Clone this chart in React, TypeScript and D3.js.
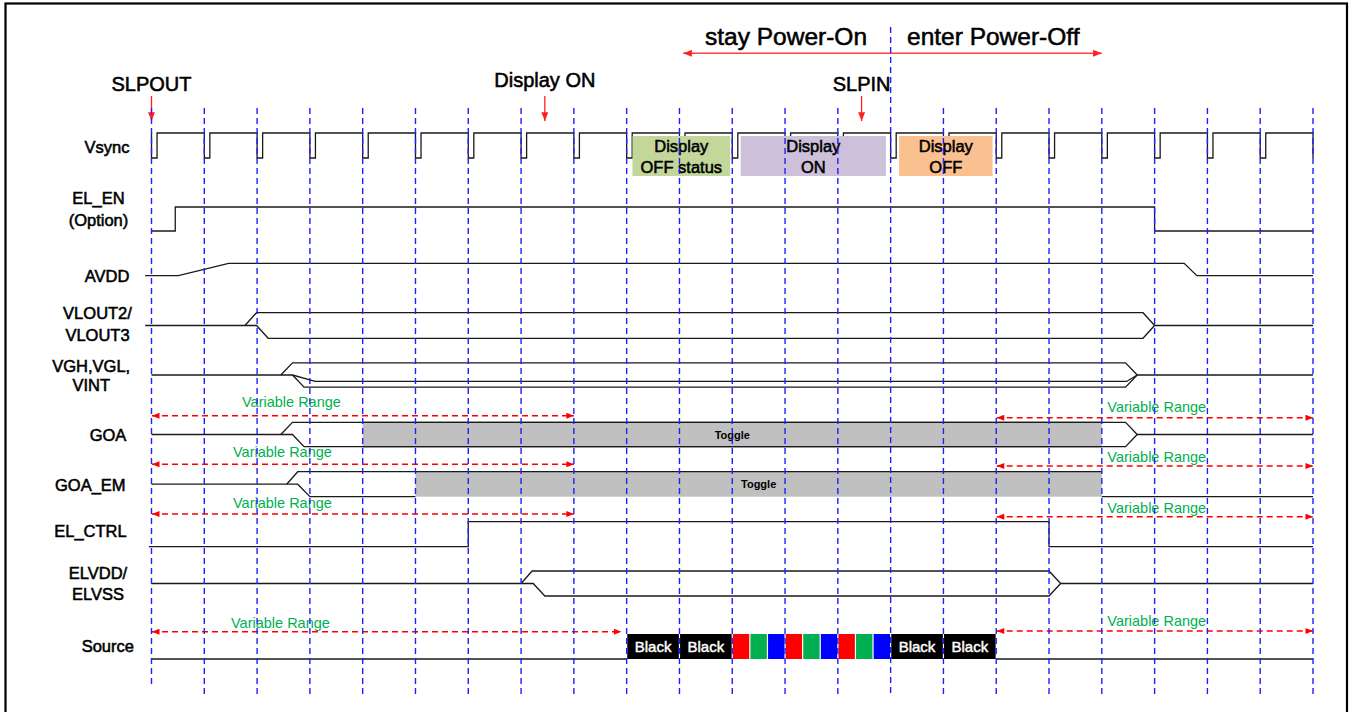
import * as d3 from 'd3';

// frame boundaries (Vsync periods) along the time axis
const FRAMES = [0, 1, 2, 3, 4, 5, 6, 7, 8, 9, 10, 11, 12, 13, 14, 15, 16, 17, 18, 19, 20, 21, 22];
const VSYNC_PULSES = [0, 1, 2, 3, 4, 5, 6, 7, 8, 9, 10, 11, 12, 13, 14, 15, 16, 17, 18, 19, 20, 21];
const VSYNC_END = 22;
const PULSE_WIDTH = 0.105;
const POWER_DIVIDER = 14;

// level: 1 = high, 0 = middle, -1 = low
type Pt = [number, number];

const EL_EN: Pt[][] = [[[0, -1], [0.45, -1], [0.45, 1], [19, 1], [19, -1], [22, -1]]];
const AVDD: Pt[][] = [[[-0.12, -1], [0.51, -1], [1.46, 1], [19.56, 1], [19.8, -1], [22, -1]]];
const VLOUT: Pt[][] = [
  [[-0.12, 0], [1.99, 0], [2.21, -1], [18.78, -1], [19, 0], [22, 0]],
  [[1.77, 0], [1.99, 1], [18.78, 1], [19, 0]],
];
const VGH: Pt[][] = [
  [[0, 0], [2.67, 0], [2.89, -1], [18.45, -1], [18.67, 0], [22, 0]],
  [[2.45, 0], [2.67, 1], [18.45, 1], [18.67, 0]],
  [[2.67, 0], [3.1, -0.53], [18.47, -0.53], [18.67, 0]],
];
const GOA: Pt[][] = [
  [[0, 0], [2.67, 0], [2.89, -1], [18.45, -1], [18.67, 0], [22, 0]],
  [[2.45, 0], [2.67, 1], [18.45, 1], [18.67, 0]],
];
const GOA_EM: Pt[][] = [
  [[0, 0], [2.77, 0], [3.0, -1], [5, -1]],
  [[18, -1], [22, -1]],
  [[2.56, 0], [2.77, 1], [18, 1]],
];
const EL_CTRL: Pt[][] = [[[-0.05, -1], [6, -1], [6, 1], [17, 1], [17, -1], [22, -1]]];
const ELVDD: Pt[][] = [
  [[0, 0], [7.23, 0], [7.45, -1], [17, -1], [17.22, 0], [22, 0]],
  [[7, 0], [7.21, 1], [17, 1], [17.22, 0]],
];
const SOURCE: Pt[][] = [
  [[0, -1], [9, -1]],
  [[16, -1], [22, -1]],
];

const TOGGLES = [
  { row: 'GOA', from: 4, to: 18 },
  { row: 'GOA_EM', from: 5, to: 18 },
];

const SOURCE_START = 9;
const SOURCE_CELLS = ['Black', 'Black', 'R', 'G', 'B', 'R', 'G', 'B', 'R', 'G', 'B', 'Black', 'Black'];
const CELL_LEN: Record<string, number> = { Black: 1, R: 1 / 3, G: 1 / 3, B: 1 / 3 };
const CELL_FILL: Record<string, string> = { Black: '#000000', R: '#ff0000', G: '#00b050', B: '#0000ff' };

const DISPLAY_STATES = [
  { lines: ['Display', 'OFF status'], from: 9.11, to: 10.96, fill: '#c4d79b' },
  { lines: ['Display', 'ON'], from: 11.16, to: 13.91, fill: '#ccc0da' },
  { lines: ['Display', 'OFF'], from: 14.16, to: 15.93, fill: '#fac090' },
];

const COMMANDS = [
  { label: 'SLPOUT', t: 0 },
  { label: 'Display ON', t: 7.45 },
  { label: 'SLPIN', t: 13.45 },
];

const VAR_RANGES = [
  { row: 'GOA', from: 0, to: 8, side: 'L' },
  { row: 'GOA', from: 16, to: 22, side: 'R' },
  { row: 'GOA_EM', from: 0, to: 8, side: 'L' },
  { row: 'GOA_EM', from: 16, to: 22, side: 'R' },
  { row: 'EL_CTRL', from: 0, to: 8, side: 'L' },
  { row: 'EL_CTRL', from: 16, to: 22, side: 'R' },
  { row: 'Source', from: 0, to: 8.9, side: 'L' },
  { row: 'Source', from: 16, to: 22, side: 'R' },
];

// layout: row centre / half swing / label
const ROWS: Record<string, { c: number; a: number; lx: number; ly: number[]; labels: string[] }> = {
  Vsync: { c: 145.5, a: 12.5, lx: 107, ly: [153], labels: ['Vsync'] },
  EL_EN: { c: 219, a: 12, lx: 98.5, ly: [204, 225.5], labels: ['EL_EN', '(Option)'] },
  AVDD: { c: 269.5, a: 6.2, lx: 107, ly: [281.5], labels: ['AVDD'] },
  VLOUT: { c: 325.5, a: 12.8, lx: 97.5, ly: [319.3, 340.7], labels: ['VLOUT2/', 'VLOUT3'] },
  VGH: { c: 375, a: 12.2, lx: 91.2, ly: [371.5, 391], labels: ['VGH,VGL,', 'VINT'] },
  GOA: { c: 434.5, a: 12.2, lx: 108, ly: [440.7], labels: ['GOA'] },
  GOA_EM: { c: 484.2, a: 12.5, lx: 90.3, ly: [490.5], labels: ['GOA_EM'] },
  EL_CTRL: { c: 534.2, a: 12.5, lx: 90.5, ly: [537.3], labels: ['EL_CTRL'] },
  ELVDD: { c: 583.5, a: 12.5, lx: 98, ly: [579.3, 600], labels: ['ELVDD/', 'ELVSS'] },
  Source: { c: 646.5, a: 12.5, lx: 107.8, ly: [652.3], labels: ['Source'] },
};

const RANGE_Y: Record<string, { L: number; R: number; lL: number; lR: number; tL: number }> = {
  GOA: { L: 415.7, R: 417.7, lL: 407.3, lR: 412.3, tL: 242 },
  GOA_EM: { L: 464.3, R: 466, lL: 456.7, lR: 461.7, tL: 233 },
  EL_CTRL: { L: 514, R: 516.7, lL: 508.3, lR: 512.8, tL: 233 },
  Source: { L: 631.7, R: 631, lL: 628.3, lR: 626.2, tL: 231 },
};

const FONT = 'Arial, "Liberation Sans", Helvetica, sans-serif';
const W = 1355;
const H = 712;

export default function App() {
  const x = d3.scaleLinear().domain([0, 22]).range([151.5, 1313]);
  const yOf = (row: string) =>
    d3.scaleLinear().domain([-1, 1]).range([ROWS[row].c + ROWS[row].a, ROWS[row].c - ROWS[row].a]);

  const tracePath = (row: string, pts: Pt[]) => {
    const y = yOf(row);
    return d3.line<Pt>().x((d) => x(d[0])).y((d) => y(d[1]))(pts) ?? '';
  };

  // vsync waveform built from pulse times
  const vsyncPts: Pt[] = [[0, 1]];
  VSYNC_PULSES.forEach((p) => {
    vsyncPts.push([p, 1], [p, -1], [p + PULSE_WIDTH, -1], [p + PULSE_WIDTH, 1]);
  });
  vsyncPts.push([VSYNC_END, 1], [VSYNC_END, -1]);

  const traces: [string, Pt[][]][] = [
    ['EL_EN', EL_EN],
    ['AVDD', AVDD],
    ['VLOUT', VLOUT],
    ['VGH', VGH],
    ['GOA', GOA],
    ['GOA_EM', GOA_EM],
    ['EL_CTRL', EL_CTRL],
    ['ELVDD', ELVDD],
    ['Source', SOURCE],
  ];

  // source data cells
  let acc = SOURCE_START;
  const cells = SOURCE_CELLS.map((k) => {
    const c = { k, from: acc, to: acc + CELL_LEN[k] };
    acc += CELL_LEN[k];
    return c;
  });
  const ySrc = yOf('Source');

  const labelStyle = { fontFamily: FONT, fontSize: 16.5, fill: '#000', stroke: '#000', strokeWidth: 0.55 };

  return (
    <svg width={W} height={H} style={{ position: 'absolute', left: 0, top: 0, background: '#fff' }}>
      <defs>
        <marker id="ah" viewBox="0 0 10 8" refX="10" refY="4" markerWidth="9" markerHeight="7"
          markerUnits="userSpaceOnUse" orient="auto-start-reverse">
          <path d="M0,0 L10,4 L0,8 z" fill="#ff2020" />
        </marker>
        <marker id="ah2" viewBox="0 0 10 8" refX="10" refY="4" markerWidth="9" markerHeight="6"
          markerUnits="userSpaceOnUse" orient="auto-start-reverse">
          <path d="M0,0 L10,4 L0,8 z" fill="#ff0000" />
        </marker>
      </defs>

      <rect x={5.5} y={3.5} width={1341.5} height={740} fill="#fff" stroke="#000" strokeWidth={2.2} />

      {/* power phase header */}
      <text x={705} y={45} fontFamily={FONT} fontSize={24.5} fill="#000" stroke="#000" strokeWidth={0.55}>stay Power-On</text>
      <text x={907} y={45} fontFamily={FONT} fontSize={24.5} fill="#000" stroke="#000" strokeWidth={0.55}>enter Power-Off</text>
      <line x1={x(10.07)} x2={x(18)} y1={53.3} y2={53.3} stroke="#ff4040" strokeWidth={1.6}
        markerStart="url(#ah)" markerEnd="url(#ah)" />

      {/* commands */}
      {COMMANDS.map((c) => (
        <g key={c.label}>
          <text x={x(c.t)} y={c.label === 'Display ON' ? 87.3 : 91} textAnchor="middle" fontFamily={FONT}
            fontSize={20} fill="#000" stroke="#000" strokeWidth={0.55}>{c.label}</text>
          <line x1={x(c.t)} x2={x(c.t)} y1={96} y2={121} stroke="#ff2020" strokeWidth={1.3} markerEnd="url(#ah)" />
        </g>
      ))}

      {/* row labels */}
      {Object.entries(ROWS).map(([k, r]) =>
        r.labels.map((s, i) => (
          <text key={k + i} x={r.lx} y={r.ly[i]} textAnchor="middle" {...labelStyle}>{s}</text>
        ))
      )}

      {/* toggle boxes */}
      {TOGGLES.map((t) => {
        const y = yOf(t.row);
        return (
          <g key={t.row}>
            <rect x={x(t.from)} y={y(1)} width={x(t.to) - x(t.from)} height={y(-1) - y(1)} fill="#c0c0c0" />
            <text x={(x(t.from) + x(t.to)) / 2} y={y(0) + 4} textAnchor="middle" fontFamily={FONT}
              fontSize={11} fontWeight="bold" fill="#000">Toggle</text>
          </g>
        );
      })}

      {/* vsync */}
      <path d={tracePath('Vsync', vsyncPts)} fill="none" stroke="#1a1a1a" strokeWidth={1.3} />

      {/* signal traces */}
      {traces.map(([row, list]) =>
        list.map((pts, i) => (
          <path key={row + i} d={tracePath(row, pts)} fill="none" stroke="#1a1a1a" strokeWidth={1.3} />
        ))
      )}
      {TOGGLES.filter((t) => t.row === 'GOA').map((t) => {
        const y = yOf(t.row);
        return (
          <g key={'e' + t.row}>
            <line x1={x(t.from)} x2={x(t.to)} y1={y(1)} y2={y(1)} stroke="#1a1a1a" strokeWidth={1.3} />
            <line x1={x(t.from)} x2={x(t.to)} y1={y(-1)} y2={y(-1)} stroke="#1a1a1a" strokeWidth={1.3} />
          </g>
        );
      })}

      {/* source data cells */}
      {cells.map((c, i) => (
        <g key={i}>
          <rect x={x(c.from) + 0.6} y={ySrc(1)} width={x(c.to) - x(c.from) - 1.2} height={ySrc(-1) - ySrc(1)}
            fill={CELL_FILL[c.k]} />
          {c.k === 'Black' && (
            <text x={(x(c.from) + x(c.to)) / 2} y={ySrc(0) + 5.5} textAnchor="middle" fontFamily={FONT}
              fontSize={15} fill="#fff" stroke="#fff" strokeWidth={0.45}>Black</text>
          )}
        </g>
      ))}

      {/* display state boxes */}
      {DISPLAY_STATES.map((d) => (
        <g key={d.lines.join()}>
          <rect x={x(d.from)} y={136} width={x(d.to) - x(d.from)} height={40} fill={d.fill} />
          {d.lines.map((s, i) => (
            <text key={s} x={(x(d.from) + x(d.to)) / 2} y={151.7 + i * 21} textAnchor="middle" {...labelStyle}>{s}</text>
          ))}
        </g>
      ))}

      {/* variable range arrows */}
      {VAR_RANGES.map((v, i) => {
        const r = RANGE_Y[v.row];
        const y = v.side === 'L' ? r.L : r.R;
        return (
          <g key={i}>
            <line x1={x(v.from) + 0.5} x2={x(v.to)} y1={y} y2={y} stroke="#ff0000" strokeWidth={1.4}
              strokeDasharray="6,4" markerStart="url(#ah2)" markerEnd="url(#ah2)" />
            <text x={v.side === 'L' ? r.tL : 1107.3} y={v.side === 'L' ? r.lL : r.lR} fontFamily={FONT}
              fontSize={14.5} fill="#00b050">Variable Range</text>
          </g>
        );
      })}

      {/* frame grid */}
      {FRAMES.map((f) => (
        <line key={f} x1={x(f)} x2={x(f)} y1={f === POWER_DIVIDER ? 27 : 108} y2={f === 0 ? 688 : 696}
          stroke="#1f1fff" strokeWidth={1.4} strokeDasharray="6,4" />
      ))}
    </svg>
  );
}
